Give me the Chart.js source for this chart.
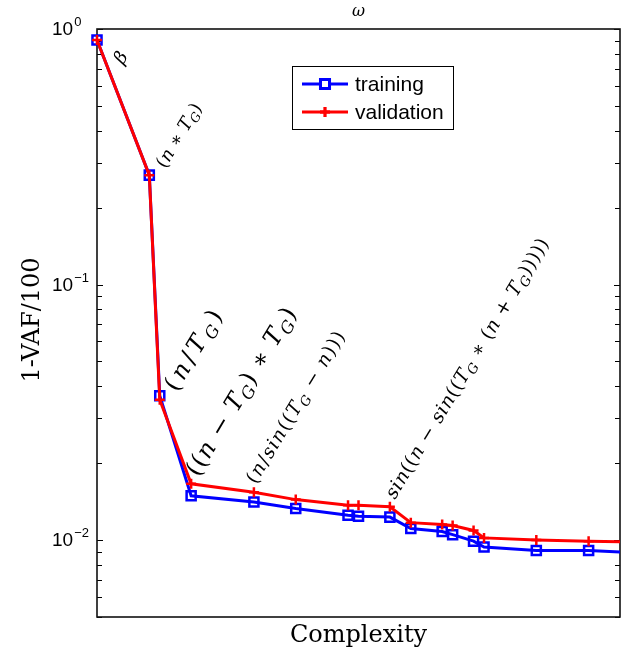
<!DOCTYPE html>
<html>
<head>
<meta charset="utf-8">
<script src="https://cdn.jsdelivr.net/npm/chart.js@4.4.1/dist/chart.umd.min.js"></script>
<style>
  html, body { margin: 0; padding: 0; background: #fff; }
  #wrap { width: 629px; height: 652px; }
</style>
</head>
<body>
<div id="wrap"><canvas id="chart"></canvas></div>
<script>
// data
const complexity = [0, 10, 12, 18, 30, 38, 48, 50, 56, 60, 66, 68, 72, 74, 84, 94, 104];
const training = [0.905, 0.268, 0.0367, 0.0149, 0.0141, 0.0133, 0.0125, 0.0124, 0.0123, 0.0111, 0.0108, 0.0105, 0.0099, 0.0094, 0.0091, 0.0091, 0.0089];
const validation = [0.905, 0.268, 0.0354, 0.0166, 0.0154, 0.0144, 0.0137, 0.0137, 0.0135, 0.0117, 0.0115, 0.0114, 0.0109, 0.0102, 0.0100, 0.0099, 0.0098];
const yTickExponents = [0, -1, -2];
const labelTexts = ["β", "(n ∗ T_G)", "(n/T_G)", "((n − T_G) ∗ T_G)", "(n/sin((T_G − n)))", "sin((n − sin((T_G ∗ (n + T_G)))))"];
const labelPoints = [0, 1, 2, 3, 4, 8];

const SERIF = '"DejaVu Serif", "Liberation Serif", serif';
const SANS = '"Liberation Sans", Arial, sans-serif';

// offsets from the labelled point, font size and length of the text along its baseline
const labelStyle = [
  { dx: 26, dy: 25, size: 18 },
  { dx: 16, dy: -6, size: 18, len: 72 },
  { dx: 17, dy: -3, size: 24, len: 90 },
  { dx: 7, dy: -18, size: 24, len: 192 },
  { dx: 2, dy: -17, size: 19, len: 174 },
  { dx: 5, dy: -17, size: 19, len: 300 },
];
const ROT = -59 * Math.PI / 180;

function drawMath(ctx, x, y, str, st) {
  const toks = [];
  for (let i = 0; i < str.length; i++) {
    let ch = str[i], sub = false;
    if (ch === "_") { sub = true; ch = str[++i]; }
    toks.push({ ch, sub, it: /[a-zA-Zα-ω]/.test(ch) });
  }
  const size = st.size;
  const fontFor = t => (t.it ? "italic " : "") + (t.sub ? size * 0.7 : size) + "px " + SERIF;
  let gap = 0;
  if (st.len && toks.length > 1) {
    let w = 0;
    toks.forEach(t => { ctx.font = fontFor(t); w += ctx.measureText(t.ch).width; });
    gap = Math.max(-1, (st.len - w) / (toks.length - 1));
  }
  ctx.save();
  ctx.translate(x, y);
  ctx.rotate(ROT);
  ctx.fillStyle = "#000";
  ctx.textBaseline = "alphabetic";
  ctx.textAlign = "left";
  let cx = 0;
  toks.forEach(t => {
    ctx.font = fontFor(t);
    ctx.fillText(t.ch, cx, t.sub ? size * 0.2 : 0);
    cx += ctx.measureText(t.ch).width + gap;
  });
  ctx.restore();
}

const decor = {
  id: "decor",
  beforeDatasetsDraw(chart) {
    const { ctx, chartArea: a, scales: { y } } = chart;
    ctx.save();
    ctx.strokeStyle = "#000";
    ctx.lineWidth = 1;
    for (let e = -3; e <= 0; e++) {
      for (let k = 1; k <= 9; k++) {
        const v = k * Math.pow(10, e);
        if (v < 0.005 - 1e-9 || v > 1 + 1e-9) continue;
        const py = Math.round(y.getPixelForValue(v)) + 0.5;
        const len = k === 1 ? 6 : 5;
        ctx.beginPath();
        ctx.moveTo(a.left, py); ctx.lineTo(a.left + len, py);
        ctx.moveTo(a.right, py); ctx.lineTo(a.right - len, py);
        ctx.stroke();
      }
    }
    ctx.lineWidth = 1.6;
    ctx.strokeStyle = "#111";
    ctx.strokeRect(a.left, a.top, a.right - a.left, a.bottom - a.top);

    // tick labels
    ctx.fillStyle = "#000";
    yTickExponents.forEach(e => {
      const py = y.getPixelForValue(Math.pow(10, e));
      ctx.font = "19px " + SANS;
      ctx.textBaseline = "middle";
      ctx.textAlign = "left";
      ctx.fillText("10", 52, py + 1);
      const w = ctx.measureText("10").width;
      ctx.font = "13px " + SANS;
      ctx.textBaseline = "alphabetic";
      ctx.fillText(e === 0 ? "0" : "\u2212" + (-e), 52 + w + 1, py - 3);
    });

    // axis titles and title
    ctx.textAlign = "center";
    ctx.font = "24px " + SERIF;
    ctx.textBaseline = "alphabetic";
    ctx.fillText("Complexity", (a.left + a.right) / 2, 642);
    ctx.font = "italic 16px " + SERIF;
    ctx.textBaseline = "middle";
    ctx.fillText("ω", (a.left + a.right) / 2, 12);
    ctx.save();
    ctx.translate(33, (a.top + a.bottom) / 2 - 3);
    ctx.rotate(-Math.PI / 2);
    ctx.font = "24px " + SERIF;
    ctx.textBaseline = "middle";
    ctx.fillText("1-VAF/100", 0, 0);
    ctx.restore();
    ctx.restore();
  },
  afterDatasetsDraw(chart) {
    const { ctx, scales: { x, y } } = chart;
    labelTexts.forEach((txt, i) => {
      const p = labelPoints[i], st = labelStyle[i];
      const px = x.getPixelForValue(complexity[p]) + st.dx;
      const py = y.getPixelForValue(training[p]) + st.dy;
      drawMath(ctx, px, py, txt, st);
    });

    // legend
    ctx.save();
    ctx.fillStyle = "#fff";
    ctx.fillRect(292, 66, 162, 64);
    ctx.strokeStyle = "#000";
    ctx.lineWidth = 1;
    ctx.strokeRect(292.5, 66.5, 161, 63);
    chart.data.datasets.forEach((ds, i) => {
      const ly = 84 + i * 28;
      ctx.strokeStyle = ds.borderColor;
      ctx.lineWidth = 3;
      ctx.beginPath();
      ctx.moveTo(302, ly); ctx.lineTo(348, ly);
      ctx.stroke();
      Chart.helpers.drawPoint(ctx, {
        pointStyle: ds.pointStyle, radius: ds.pointRadius, rotation: 0, borderWidth: ds.pointBorderWidth,
      }, 325, ly);
      ctx.lineWidth = ds.pointBorderWidth;
      ctx.stroke();
      ctx.fillStyle = "#000";
      ctx.font = "21px " + SANS;
      ctx.textBaseline = "middle";
      ctx.textAlign = "left";
      ctx.fillText(ds.label, 355, ly + 1);
    });
    ctx.restore();
  },
};

new Chart(document.getElementById("chart"), {
  type: "line",
  data: {
    datasets: [
      {
        label: "training",
        data: complexity.map((c, i) => ({ x: c, y: training[i] })),
        borderColor: "#0000ff",
        borderWidth: 3,
        pointStyle: "rect",
        pointRadius: 6.4,
        pointBorderWidth: 2.5,
        pointBorderColor: "#0000ff",
        pointBackgroundColor: "rgba(0,0,0,0)",
        tension: 0,
        order: 2,
        clip: { left: 10, top: 10, right: 0, bottom: 0 },
      },
      {
        label: "validation",
        data: complexity.map((c, i) => ({ x: c, y: validation[i] })),
        borderColor: "#ff0000",
        borderWidth: 3,
        pointStyle: "cross",
        pointRadius: 5,
        pointBorderWidth: 2.5,
        pointBorderColor: "#ff0000",
        tension: 0,
        order: 1,
        clip: { left: 10, top: 10, right: 0, bottom: 0 },
      },
    ],
  },
  options: {
    responsive: true,
    maintainAspectRatio: false,
    animation: false,
    layout: { padding: { left: 97, right: 9, top: 29, bottom: 35 } },
    scales: {
      x: { type: "linear", min: 0, max: 100, display: false },
      y: { type: "logarithmic", min: 0.005, max: 1, display: false },
    },
    plugins: {
      legend: { display: false },
      tooltip: { enabled: false },
    },
  },
  plugins: [decor],
});
</script>
</body>
</html>
